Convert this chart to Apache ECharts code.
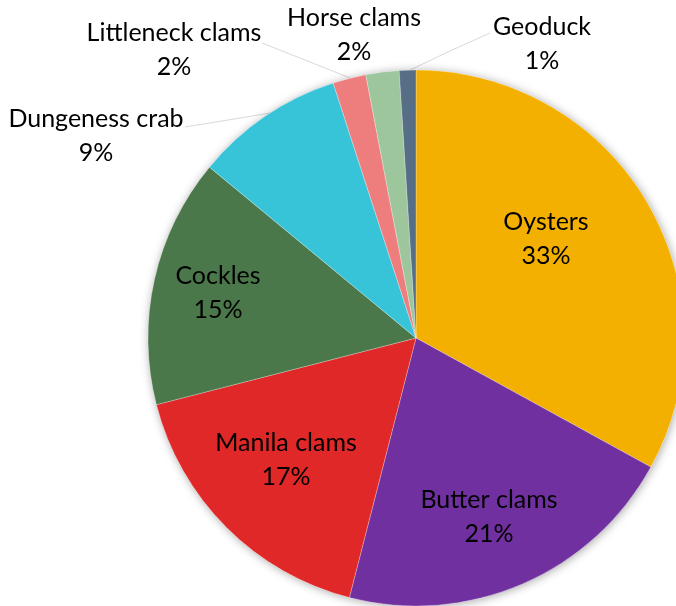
<!DOCTYPE html>
<html>
<head>
<meta charset="utf-8">
<script src="https://cdn.jsdelivr.net/npm/echarts@6/dist/echarts.min.js"></script>
<style>
html,body{margin:0;padding:0;background:#fff;}
#chart{width:676px;height:606px;}
</style>
</head>
<body>
<div id="chart"></div>
<script>
// ---- data ----
var categories = ['Oysters', 'Butter clams', 'Manila clams', 'Cockles', 'Dungeness crab', 'Littleneck clams', 'Horse clams', 'Geoduck'];
var values = [33, 21, 17, 15, 9, 2, 2, 1];

// ---- style / layout ----
var colors = ['#F3B000', '#7030A0', '#E02828', '#4A784A', '#38C4D8', '#EE7E7E', '#9DC69D', '#566E86'];
var labelInside = [true, true, true, true, false, false, false, false];
// label block centres (layout)
var labelPos = [[546, 239], [489, 517], [286, 460], [218, 293], [96, 136], [174, 50], [354, 35], [542, 44]];
// leader lines for outside labels (layout)
var leaderLines = [null, null, null, null,
  [[185, 127], [228, 120], [270, 113]],
  [[262, 43], [305, 60], [350, 78]],
  null,
  [[490, 33], [450, 51], [410, 70]]];

var CX = 416, CY = 338, R = 268;
var FONT = 'Lato, "Open Sans", sans-serif';

var chart = echarts.init(document.getElementById('chart'), null, {renderer: 'canvas'});

var pieData = categories.map(function (c, i) {
  return {
    name: c,
    value: values[i],
    itemStyle: {color: colors[i]},
    label: {position: labelInside[i] ? 'inside' : 'outside'},
    labelLine: {show: !!leaderLines[i]}
  };
});

chart.setOption({
  animation: false,
  backgroundColor: '#ffffff',
  series: [
    {
      type: 'pie',
      silent: true,
      center: [CX, CY],
      radius: [0, R],
      data: [{value: 1, name: '', itemStyle: {color: '#ffffff', shadowBlur: 10, shadowColor: 'rgba(0,0,0,0.35)', shadowOffsetX: 1, shadowOffsetY: 1}}],
      label: {show: false},
      labelLine: {show: false}
    },
    {
      type: 'pie',
      center: [CX, CY],
      radius: [0, R],
      startAngle: 90,
      clockwise: true,
      avoidLabelOverlap: false,
      percentPrecision: 0,
      itemStyle: {borderColor: 'rgba(255,255,255,0.5)', borderWidth: 0.5},
      label: {
        show: true,
        formatter: '{b}\n{d}%',
        fontFamily: FONT,
        fontSize: 25,
        lineHeight: 34,
        color: '#000000',
        align: 'center'
      },
      labelLine: {
        show: true,
        lineStyle: {color: '#D9D9D9', width: 1}
      },
      labelLayout: function (params) {
        var i = params.dataIndex;
        var p = labelPos[i];
        var out = {x: p[0], y: p[1], align: 'center', verticalAlign: 'middle'};
        if (leaderLines[i]) out.labelLinePoints = leaderLines[i];
        return out;
      },
      data: pieData
    }
  ]
});
</script>
</body>
</html>
